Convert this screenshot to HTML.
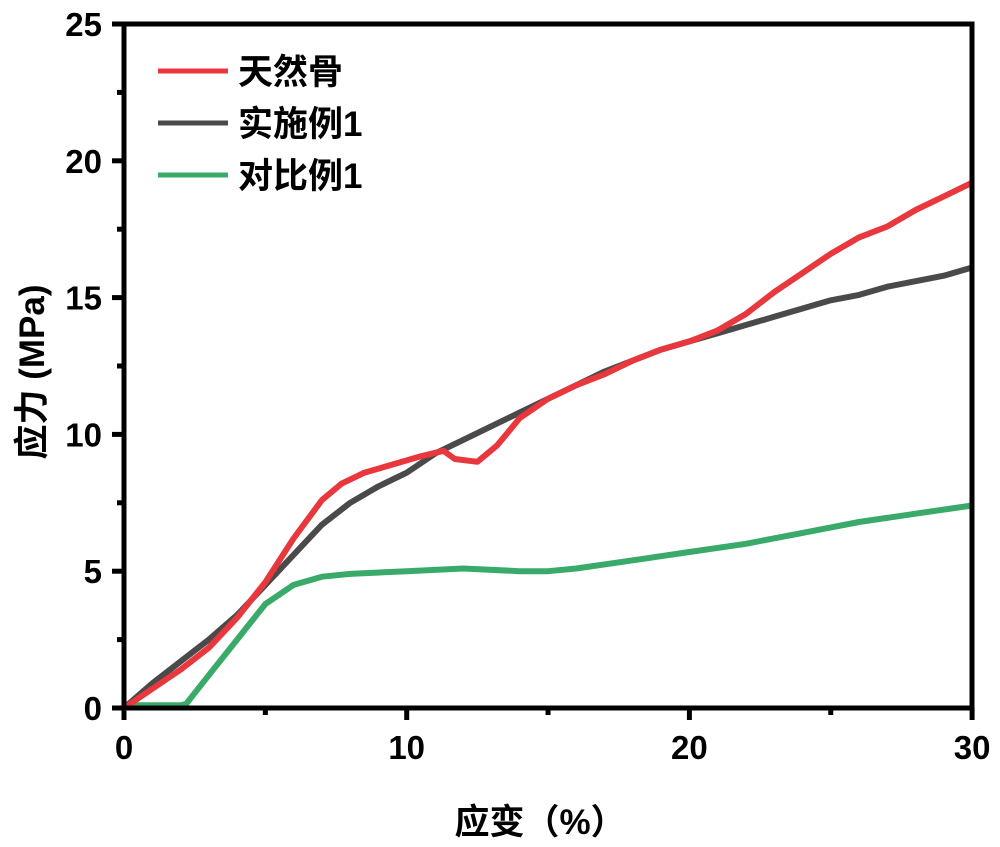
<!DOCTYPE html>
<html><head><meta charset="utf-8"><style>
body{margin:0;background:#fff}
svg{display:block}
text{font-family:"Liberation Sans","Noto Sans CJK SC",sans-serif;font-weight:bold;fill:#000}
</style></head><body>
<svg id="s" width="1000" height="847" xmlns="http://www.w3.org/2000/svg">
<g id="ticks"></g>
<path id="g" fill="none" stroke="#3aaa6a" stroke-width="6" stroke-linejoin="round"/>
<path id="k" fill="none" stroke="#4a4a4a" stroke-width="6" stroke-linejoin="round"/>
<path id="r" fill="none" stroke="#e8383d" stroke-width="6" stroke-linejoin="round"/>
<rect x="124" y="24" width="848" height="684" fill="none" stroke="#000" stroke-width="5"/>
<line x1="158" y1="71" x2="228" y2="71" stroke="#e8383d" stroke-width="5"/>
<line x1="158" y1="123" x2="228" y2="123" stroke="#4a4a4a" stroke-width="5"/>
<line x1="158" y1="175" x2="228" y2="175" stroke="#3aaa6a" stroke-width="5"/>
<text x="238" y="84" font-size="35">天然骨</text>
<text x="238" y="136" font-size="35">实施例1</text>
<text x="238" y="188" font-size="35">对比例1</text>
<text x="540" y="834" font-size="35" text-anchor="middle">应变（%）</text>
<text transform="translate(44,372) rotate(-90)" font-size="35" text-anchor="middle">应力 (MPa)</text>
</svg>
<script>
var X=function(v){return 124+v*28.27},Y=function(v){return 708-v*27.36};
function p(id,d){document.getElementById(id).setAttribute('d',d.map(function(q,i){return(i?'L':'M')+X(q[0]).toFixed(1)+' '+Y(q[1]).toFixed(1)}).join(''));}
p('r',[[0,0],[1,0.7],[2,1.4],[3,2.2],[4,3.3],[5,4.6],[6,6.2],[7,7.6],[7.7,8.2],[8.5,8.6],[9.5,8.9],[10.5,9.2],[11.3,9.4],[11.7,9.1],[12.5,9.0],[13.2,9.6],[14,10.6],[15,11.3],[16,11.8],[17,12.2],[18,12.7],[19,13.1],[20,13.4],[21,13.8],[22,14.4],[23,15.2],[24,15.9],[25,16.6],[26,17.2],[27,17.6],[28,18.2],[29,18.7],[30,19.2]]);
p('k',[[0,0],[1,0.9],[2,1.7],[3,2.5],[4,3.4],[5,4.5],[6,5.6],[7,6.7],[8,7.5],[9,8.1],[10,8.6],[11,9.3],[12,9.8],[13,10.3],[14,10.8],[15,11.3],[16,11.8],[17,12.3],[18,12.7],[19,13.1],[20,13.4],[21,13.7],[22,14.0],[23,14.3],[24,14.6],[25,14.9],[26,15.1],[27,15.4],[28,15.6],[29,15.8],[30,16.1]]);
p('g',[[0,0],[0.5,0.1],[2,0.1],[2.2,0.15],[3,1.2],[4,2.5],[5,3.8],[6,4.5],[7,4.8],[8,4.9],[10,5.0],[12,5.1],[14,5.0],[15,5.0],[16,5.1],[18,5.4],[20,5.7],[22,6.0],[24,6.4],[26,6.8],[28,7.1],[30,7.4]]);
var t='',i;
for(i=0;i<=25;i+=2.5){var y=Y(i),maj=i%5==0;t+='<line x1="'+(maj?112:117)+'" y1="'+y+'" x2="124" y2="'+y+'" stroke="#000" stroke-width="5"/>';if(maj)t+='<text x="102" y="'+(y+12)+'" font-size="33" text-anchor="end">'+i+'</text>';}
for(i=0;i<=30;i+=5){var x=X(i),maj=i%10==0;t+='<line x1="'+x+'" y1="708" x2="'+x+'" y2="'+(maj?720:715)+'" stroke="#000" stroke-width="5"/>';if(maj)t+='<text x="'+x+'" y="759" font-size="33" text-anchor="middle">'+i+'</text>';}
document.getElementById('ticks').innerHTML=t;
</script>
</body></html>
